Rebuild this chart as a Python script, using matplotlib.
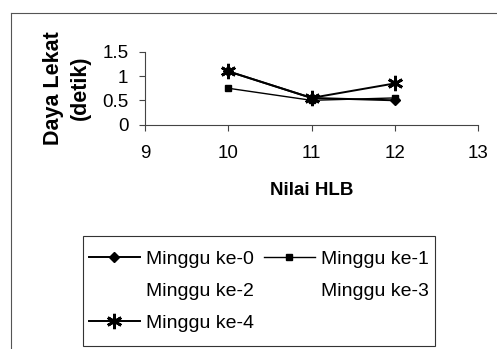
import matplotlib.pyplot as plt
from matplotlib.lines import Line2D
from matplotlib.patches import Rectangle

plt.rcParams['font.family'] = ['Liberation Sans', 'DejaVu Sans']

# data
hlb = [10, 11, 12]
minggu0 = [1.1, 0.55, 0.5]
minggu1 = [0.75, 0.5, 0.55]
minggu2 = []   # no visible line in the chart
minggu3 = []   # no visible line in the chart
minggu4 = [1.1, 0.55, 0.85]

labels = ['Minggu ke-0', 'Minggu ke-1', 'Minggu ke-2', 'Minggu ke-3', 'Minggu ke-4']
xticks = [9, 10, 11, 12, 13]
yticks = [0, 0.5, 1, 1.5]

W, H = 497, 349
fig = plt.figure(figsize=(W/100, H/100), dpi=100)
ax = fig.add_axes([145/W, 1 - 124.5/H, (478 - 145)/W, (124.5 - 52)/H])

star = (6, 2, 0)
h0, = ax.plot(hlb, minggu0, color='black', lw=1.4, marker='D', ms=5)
h1, = ax.plot(hlb, minggu1, color='black', lw=1.0, marker='s', ms=5)
h2, = ax.plot(hlb[:len(minggu2)], minggu2, color='none')
h3, = ax.plot(hlb[:len(minggu3)], minggu3, color='none')
h4, = ax.plot(hlb, minggu4, color='black', lw=1.4, marker=star, ms=11, mew=2)

ax.set_xlim(9, 13)
ax.set_ylim(0, 1.5)
ax.set_xticks(xticks)
ax.set_yticks(yticks)
ax.set_yticklabels(['0', '0.5', '1', '1.5'])
ax.tick_params(labelsize=13.5, length=4, width=0.8, color='#444444')
ax.tick_params(axis='y', pad=8)
ax.tick_params(axis='x', pad=11)
for s in ['top', 'right']:
    ax.spines[s].set_visible(False)
for s in ['left', 'bottom']:
    ax.spines[s].set_color('#444444')
    ax.spines[s].set_linewidth(0.8)

ax.set_xlabel('Nilai HLB', fontsize=13.5, fontweight='bold', labelpad=14)
ax.set_ylabel('Daya Lekat\n(detik)', fontsize=15.5, fontweight='bold',
              labelpad=8, linespacing=1.35)

# legend, row-major order like the original; frame drawn separately
fig.add_artist(Rectangle((83/W, 1 - 346/H), (435 - 83)/W, (346 - 236)/H,
                         transform=fig.transFigure, fill=False,
                         edgecolor='#333333', lw=0.8))
handles = [h0, h2, h4, h1, h3]
order_labels = [labels[0], labels[2], labels[4], labels[1], labels[3]]
fig.legend(handles, order_labels, ncol=2, loc='upper left',
           bbox_to_anchor=(89/W, 1 - 250/H), fontsize=14,
           frameon=False, handlelength=2.6,
           handletextpad=0.35, labelspacing=0.75, columnspacing=0.5,
           borderpad=0, borderaxespad=0)

# outer chart-area border
fig.add_artist(Line2D([11/W, 11/W], [0, 1 - 13/H], color='#555555', lw=0.8))
fig.add_artist(Line2D([11/W, 1], [1 - 13/H, 1 - 13/H], color='#555555', lw=0.8))

fig.savefig('out.png', dpi=100)
